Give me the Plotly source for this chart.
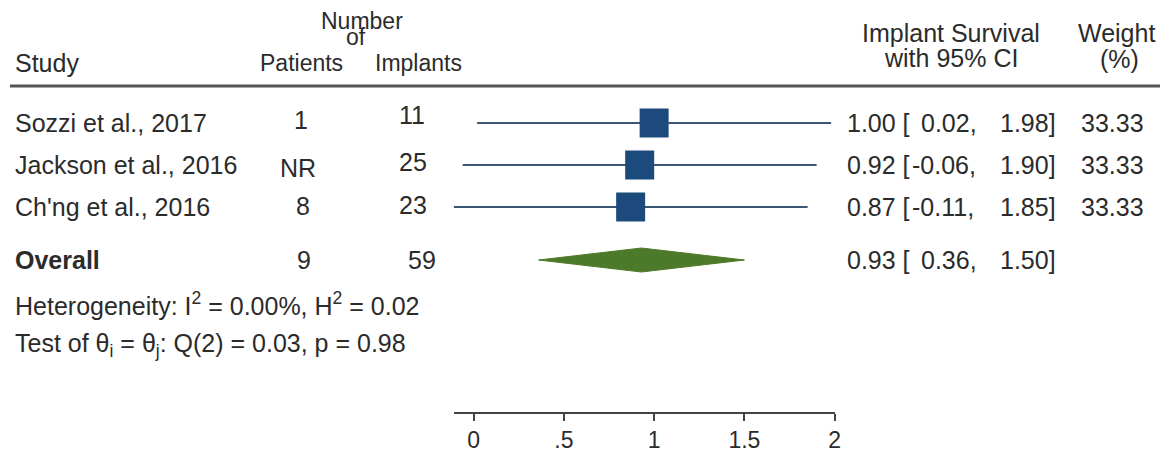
import plotly.graph_objects as go

# ---- data ----
studies = ["Sozzi et al., 2017", "Jackson et al., 2016", "Ch'ng et al., 2016"]
patients = ["1", "NR", "8"]
implants = ["11", "25", "23"]
est = [1.00, 0.92, 0.87]
lo = [0.02, -0.06, -0.11]
hi = [1.98, 1.90, 1.85]
weights = [33.33, 33.33, 33.33]

overall_label = "Overall"
overall_patients = "9"
overall_implants = "59"
overall_est = 0.93
overall_lo = 0.36
overall_hi = 1.50

het_text = "Heterogeneity: I<sup>2</sup> = 0.00%, H<sup>2</sup> = 0.02"
test_text = "Test of θ<sub>i</sub> = θ<sub>j</sub>: Q(2) = 0.03, p = 0.98"

tick_vals = [0, 0.5, 1, 1.5, 2]
tick_text = ["0", ".5", "1", "1.5", "2"]

# ---- layout (positions in page pixels; page margin removed) ----
W, H = 1174, 454
ROW0_PX, ROW_STEP = 123, 42
AXIS_PX = 412
FONT = "Arial, Liberation Sans, sans-serif"
TXT = "#2b2b2b"
FS = 25

# left edges of text columns
X_STUDY = 13
X_PAT = [294, 279, 296]
X_PAT_OV = 297
X_IMP = [399, 399, 399]
X_IMP_OV = 408
X_EST = 849
X_LO_POS, X_LO_NEG = 924, 915
X_HI = 1003
X_W = 1085
# vertical nudges seen in the reference number columns
Y_PAT = [120, 168, 206]
Y_IMP = [115, 162, 205]


def px(p):
    return p / W


def yd(p):
    return (p - ROW0_PX) / ROW_STEP


rows = list(range(len(studies)))
overall_row = yd(260)

fig = go.Figure()

# CI lines + weighted squares
fig.add_trace(go.Scatter(
    x=est, y=rows, mode="markers",
    marker=dict(symbol="square", color="#1c4a7c", opacity=1,
                size=[29 * (w / max(weights)) ** 0.5 for w in weights],
                line=dict(width=0)),
    error_x=dict(type="data", symmetric=False,
                 array=[h - e for h, e in zip(hi, est)],
                 arrayminus=[e - l for e, l in zip(est, lo)],
                 width=0, thickness=2, color="#3b5675"),
    showlegend=False, hoverinfo="skip", cliponaxis=False,
))

# Overall diamond
half_h = 12 / ROW_STEP
fig.add_trace(go.Scatter(
    x=[overall_lo, overall_est, overall_hi, overall_est, overall_lo],
    y=[overall_row, overall_row - half_h, overall_row, overall_row + half_h, overall_row],
    mode="lines", fill="toself", fillcolor="#4d7a2a",
    line=dict(color="#4d7a2a", width=1),
    showlegend=False, hoverinfo="skip",
))

annotations = []


def add(xp, y, text, size=FS, bold=False):
    if bold:
        text = "<b>" + text + "</b>"
    annotations.append(dict(
        x=px(xp), xref="paper", y=y, yref="y", text=text,
        xanchor="left", yanchor="middle", showarrow=False,
        font=dict(family=FONT, size=size, color=TXT),
    ))


# headers
add(X_STUDY, yd(63), "Study")
add(321, yd(21), "Number", 23)
add(346, yd(37), "of", 23)
add(259, yd(63), "Patients", 23)
add(375, yd(63), "Implants", 23)
add(864, yd(33), "Implant Survival")
add(887, yd(58), "with 95% CI")
add(1082, yd(33), "Weight")
add(1104, yd(59), "(%)")

# study rows
for i, r in enumerate(rows):
    add(X_STUDY, r, studies[i])
    add(X_PAT[i], yd(Y_PAT[i]), patients[i])
    add(X_IMP[i], yd(Y_IMP[i]), implants[i])
    add(X_EST, r, f"{est[i]:.2f} [")
    add(X_LO_NEG if lo[i] < 0 else X_LO_POS, r, f"{lo[i]:.2f},")
    add(X_HI, r, f"{hi[i]:.2f}]")
    add(X_W, r, f"{weights[i]:.2f}")

# overall row
add(X_STUDY, overall_row, overall_label, bold=True)
add(X_PAT_OV, overall_row, overall_patients)
add(X_IMP_OV, overall_row, overall_implants)
add(X_EST, overall_row, f"{overall_est:.2f} [")
add(X_LO_NEG if overall_lo < 0 else X_LO_POS, overall_row, f"{overall_lo:.2f},")
add(X_HI, overall_row, f"{overall_hi:.2f}]")

# heterogeneity
add(X_STUDY, yd(304), het_text)
add(X_STUDY, yd(345), test_text)

fig.update_layout(
    width=W, height=H,
    margin=dict(l=0, r=0, t=0, b=H - AXIS_PX, pad=0),
    paper_bgcolor="white", plot_bgcolor="white",
    annotations=annotations,
    shapes=[dict(type="line", xref="paper", yref="y",
                 x0=px(10), x1=px(1166), y0=yd(86), y1=yd(86),
                 line=dict(color="#555555", width=3))],
    xaxis=dict(domain=[px(456), px(839)], range=[-0.11, 2],
               tickvals=tick_vals, ticktext=tick_text,
               ticks="outside", ticklen=7, tickwidth=1.5, tickcolor="#444",
               showline=True, linecolor="#444", linewidth=1.5,
               showgrid=False, zeroline=False,
               tickfont=dict(family=FONT, size=23, color=TXT)),
    yaxis=dict(range=[yd(AXIS_PX), yd(0)], visible=False, domain=[0, 1]),
)

fig.write_html(
    "out.html",
    config={"displayModeBar": False},
    post_script="document.body.style.margin='0';document.body.style.overflow='hidden';",
)
